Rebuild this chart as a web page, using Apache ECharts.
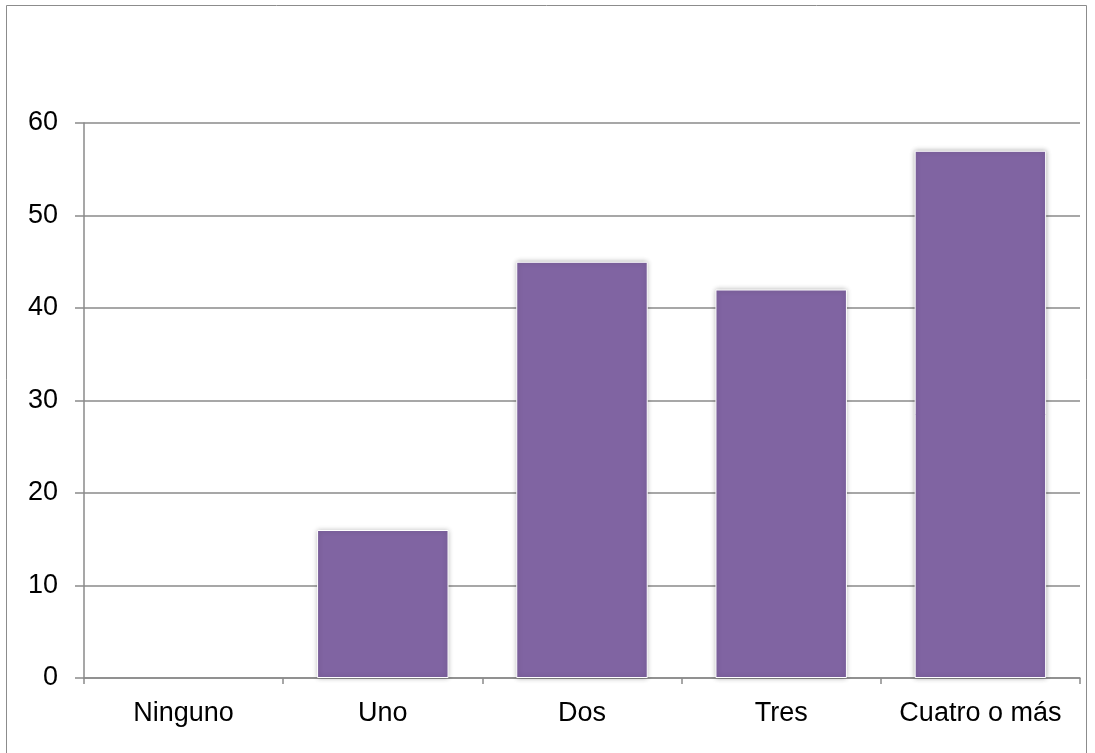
<!DOCTYPE html>
<html>
<head>
<meta charset="utf-8">
<script src="https://cdn.jsdelivr.net/npm/echarts@6/dist/echarts.min.js"></script>
<style>
  html, body { margin: 0; padding: 0; background: #fff; }
  #chart { width: 1095px; height: 753px; }
</style>
</head>
<body>
<div id="chart"></div>
<script>
// Number of items per household group
const categories = ['Ninguno', 'Uno', 'Dos', 'Tres', 'Cuatro o más'];
const values = [0, 16, 45, 42, 57];

const chart = echarts.init(document.getElementById('chart'), null, { renderer: 'canvas' });
const axisGray = '#8a8a8a';
const font = '"Liberation Sans", Arial, sans-serif';

const barStyle = {
  color: '#8064A2',
  borderColor: '#ffffff',
  borderWidth: 1,
  shadowBlur: 5,
  shadowColor: 'rgba(0,0,0,0.3)'
};

chart.setOption({
  animation: false,
  backgroundColor: '#fff',
  graphic: [{
    type: 'rect',
    shape: { x: 6.5, y: 5.5, width: 1080, height: 760 },
    style: { fill: 'none', stroke: '#8c8c8c', lineWidth: 1 },
    silent: true
  }],
  grid: { left: 84, right: 15, top: 123, bottom: 75 },
  xAxis: {
    type: 'category',
    data: categories,
    boundaryGap: true,
    axisLine: { show: true, lineStyle: { color: axisGray, width: 1.5 } },
    axisTick: { show: true, interval: 0, length: 6, lineStyle: { color: axisGray, width: 1.5 } },
    axisLabel: { color: '#000', fontFamily: font, fontSize: 27, margin: 22, interval: 0, hideOverlap: false }
  },
  yAxis: {
    type: 'value',
    min: 0, max: 60, interval: 10,
    axisLine: { show: true, lineStyle: { color: axisGray, width: 1.5 } },
    axisTick: { show: true, length: 9, lineStyle: { color: axisGray, width: 1.5 } },
    splitLine: { show: true, lineStyle: { color: axisGray, width: 1.5 } },
    axisLabel: { color: '#000', fontFamily: font, fontSize: 27, margin: 26 }
  },
  series: [{
    type: 'bar',
    // empty categories draw no outline or shadow
    data: values.map(v => v === 0
      ? { value: v, itemStyle: { borderWidth: 0, shadowBlur: 0, shadowColor: 'transparent' } }
      : v),
    barWidth: '66%',
    itemStyle: barStyle
  }]
});
</script>
</body>
</html>
